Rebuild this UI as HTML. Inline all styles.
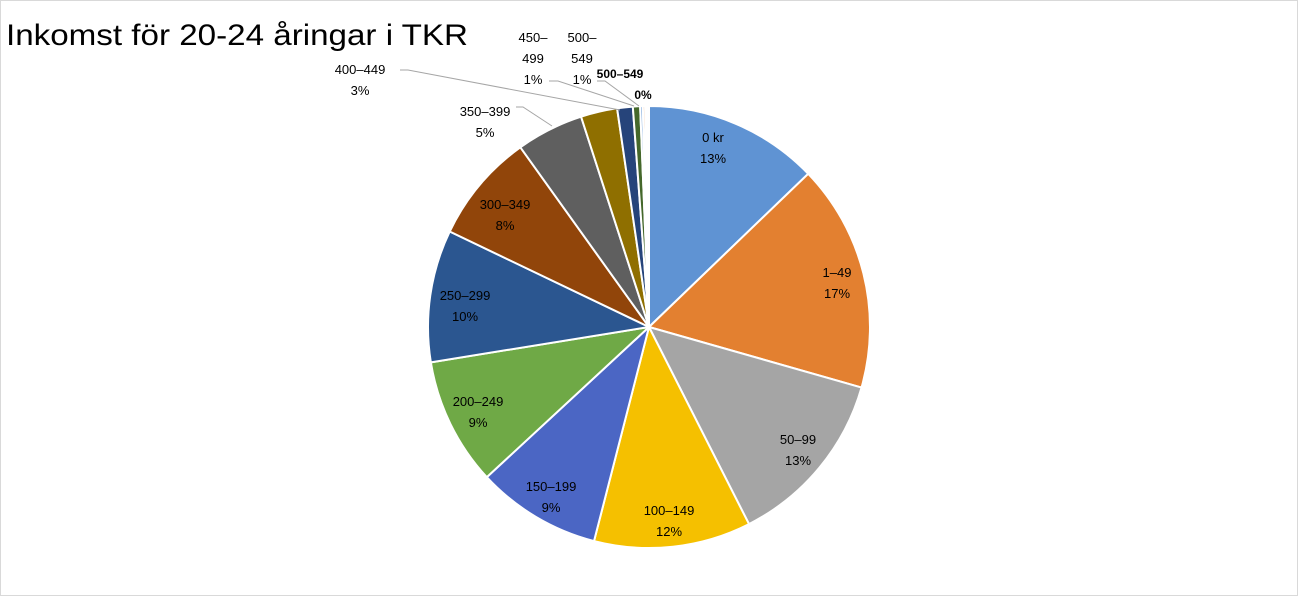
<!DOCTYPE html>
<html><head><meta charset="utf-8"><style>
html,body{margin:0;padding:0;background:#fff}
svg{display:block}
text{font-family:"Liberation Sans",sans-serif;font-size:13px;fill:#000}
</style></head><body>
<svg id="s" width="1298" height="596" xmlns="http://www.w3.org/2000/svg">
<rect x="0.5" y="0.5" width="1297" height="595" fill="#fff" stroke="#d9d9d9"/>
<text x="6" y="45" style="font-size:30px" textLength="462" lengthAdjust="spacingAndGlyphs">Inkomst för 20-24 åringar i TKR</text>
<g id="p"></g>
<g fill="none" stroke="#a6a6a6" stroke-width="1">
<polyline points="516,107 523,107 552,126"/>
<polyline points="400,70 408,70 620,110"/>
<polyline points="549,81 558,81 634,106"/>
<polyline points="597,81 605,81 639,106"/>
</g>
<g text-anchor="middle">
<text x="713" y="142">0 kr</text><text x="713" y="163">13%</text>
<text x="837" y="277">1–49</text><text x="837" y="298">17%</text>
<text x="798" y="444">50–99</text><text x="798" y="465">13%</text>
<text x="669" y="515">100–149</text><text x="669" y="536">12%</text>
<text x="551" y="491">150–199</text><text x="551" y="512">9%</text>
<text x="478" y="406">200–249</text><text x="478" y="427">9%</text>
<text x="465" y="300">250–299</text><text x="465" y="321">10%</text>
<text x="505" y="209">300–349</text><text x="505" y="230">8%</text>
<text x="485" y="116">350–399</text><text x="485" y="137">5%</text>
<text x="360" y="74">400–449</text><text x="360" y="95">3%</text>
<text x="533" y="42">450–</text><text x="533" y="63">499</text><text x="533" y="84">1%</text>
<text x="582" y="42">500–</text><text x="582" y="63">549</text><text x="582" y="84">1%</text>
<text x="620" y="78" style="font-weight:bold;font-size:12px">500–549</text>
<text x="643" y="99" style="font-weight:bold;font-size:12px">0%</text>
</g>
</svg>
<script>
var cx=649,cy=327,r=221;
var b=[0,46.1,105.9,153.1,194.4,227.2,260.8,295.6,324.4,342.1,351.7,355.8,357.7,358.4,359.0,359.5,360];
var c=["#5f93d3","#e38030","#a5a5a5","#f5c000","#4b66c4","#6fa946","#2b5690","#91450a","#5f5f5f","#8f6f00","#26447a","#45682b","#7fa8dc","#e89a60","#bdbdbd","#ffd24d"];
var g=document.getElementById("p"),h="";
function pt(a){a=a*Math.PI/180;return (cx+r*Math.sin(a)).toFixed(2)+","+(cy-r*Math.cos(a)).toFixed(2);}
for(var i=0;i<b.length-1;i++){var l=b[i+1]-b[i]>180?1:0;
h+='<path d="M'+cx+','+cy+' L'+pt(b[i])+' A'+r+','+r+' 0 '+l+' 1 '+pt(b[i+1])+' Z" fill="'+c[i]+'" stroke="#fff" stroke-width="2" stroke-linejoin="round"/>';}
g.innerHTML=h;
</script>
</body></html>
